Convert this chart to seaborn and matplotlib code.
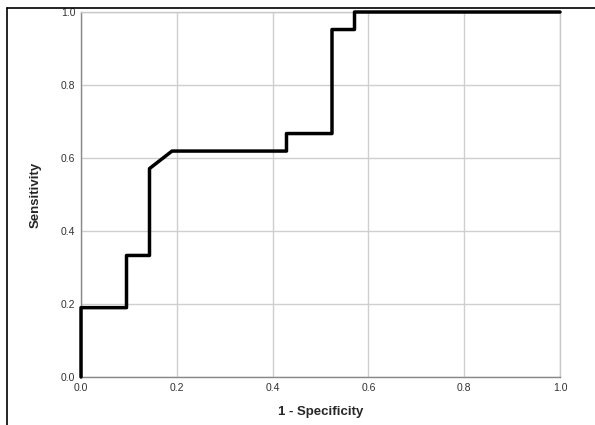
import numpy as np
import pandas as pd
import seaborn as sns
import matplotlib.pyplot as plt
from matplotlib.lines import Line2D

# ROC curve points
fpr = [0.0, 0.0, 0.095, 0.095, 0.143, 0.143, 0.190, 0.429, 0.429, 0.524, 0.524, 0.571, 0.571, 1.0]
tpr = [0.0, 0.190, 0.190, 0.333, 0.333, 0.571, 0.619, 0.619, 0.667, 0.667, 0.952, 0.952, 1.0, 1.0]
ticks = [0.0, 0.2, 0.4, 0.6, 0.8, 1.0]
tick_labels = ['0.0', '0.2', '0.4', '0.6', '0.8', '1.0']

df = pd.DataFrame({'1 - Specificity': fpr, 'Sensitivity': tpr})

sns.set_style('white')
plt.rcParams['font.family'] = ['Liberation Sans', 'DejaVu Sans']

fig = plt.figure(figsize=(5.95, 4.25), dpi=100)
ax = fig.add_axes([81 / 595, 1 - 377 / 425, 479 / 595, 365 / 425])

sns.lineplot(data=df, x='1 - Specificity', y='Sensitivity', sort=False, estimator=None,
             color='black', linewidth=2.5, ax=ax, clip_on=False, zorder=5)

ax.set_xlim(0, 1)
ax.set_ylim(0, 1)
ax.set_xticks(ticks)
ax.set_yticks(ticks)
ax.set_xticklabels(tick_labels)
ax.set_yticklabels(tick_labels)
ax.grid(True, color='#cfcfcf', linewidth=1)
ax.tick_params(length=0, labelsize=7.5, labelcolor='#333333', pad=4)
for s in ax.spines.values():
    s.set_color('#c8c8c8')
    s.set_linewidth(1)
ax.spines['left'].set_color('#888888')
ax.spines['bottom'].set_color('#888888')

ax.set_xlabel('1 - Specificity', fontsize=9.5, fontweight='bold', labelpad=10)
ax.set_ylabel('Sensitivity', fontsize=9.5, fontweight='bold', labelpad=14)

# frame lines from the cropped output window
fig.add_artist(Line2D([7 / 595, 1], [1 - 8 / 425, 1 - 8 / 425], color='black', linewidth=1.2))
fig.add_artist(Line2D([7 / 595, 7 / 595], [0, 1 - 8 / 425], color='black', linewidth=1.2))

fig.savefig('out.png', dpi=100)
